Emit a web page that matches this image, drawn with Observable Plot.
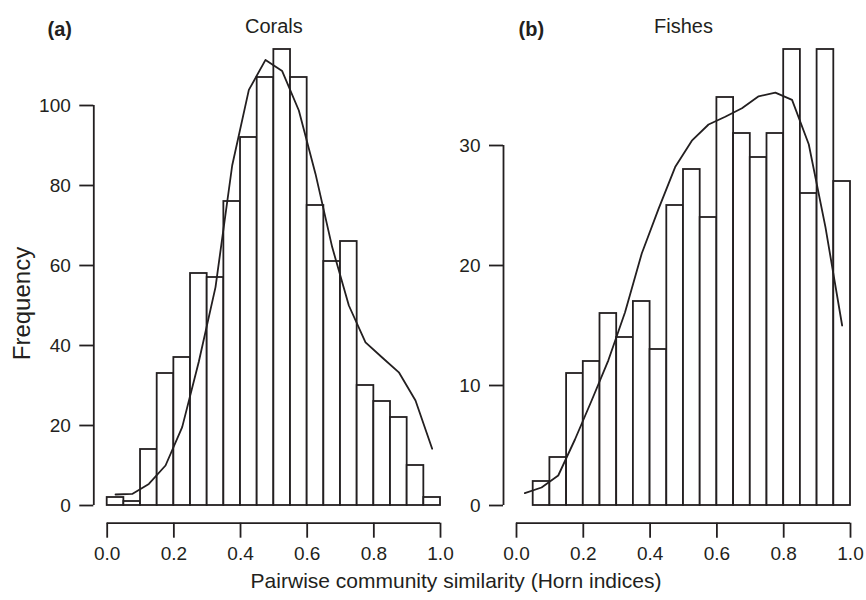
<!DOCTYPE html>
<html><head><meta charset="utf-8">
<script src="https://cdn.jsdelivr.net/npm/d3@7"></script>
<script src="https://cdn.jsdelivr.net/npm/@observablehq/plot@0.6"></script>
<style>
body{margin:0;background:#fff;}
#wrap{position:relative;width:866px;height:600px;overflow:hidden;font-family:"Liberation Sans",Arial,Helvetica,sans-serif;color:#231f20;background:#fff;}
#left,#right{position:absolute;top:0;}
#left{left:0}
#right{left:450px}
#xtitle{position:absolute;left:456px;top:570px;transform:translateX(-50%);font-size:21px;line-height:21px;white-space:nowrap;}
</style></head>
<body><div id="wrap"><div id="left"></div><div id="right"></div><div id="xtitle">Pairwise community similarity (Horn indices)</div></div>
<script>
// Histogram bins (Horn index classes)
const binStart = [0.00,0.05,0.10,0.15,0.20,0.25,0.30,0.35,0.40,0.45,0.50,0.55,0.60,0.65,0.70,0.75,0.80,0.85,0.90,0.95];
const binEnd   = [0.05,0.10,0.15,0.20,0.25,0.30,0.35,0.40,0.45,0.50,0.55,0.60,0.65,0.70,0.75,0.80,0.85,0.90,0.95,1.00];
const binMid   = [0.025,0.075,0.125,0.175,0.225,0.275,0.325,0.375,0.425,0.475,0.525,0.575,0.625,0.675,0.725,0.775,0.825,0.875,0.925,0.975];

// (a) Corals
const coralCounts = [2,1,14,33,37,58,57,76,92,107,114,107,75,61,66,30,26,22,10,2];
const coralCurve  = [2.75,2.9,5.4,10,19.6,36,54.6,85,103.9,111.4,108.6,98.75,82.9,64.6,50,40.8,37,33.3,26.25,14.2];

// (b) Fishes
const fishCounts = [0,2,4,11,12,16,14,17,13,25,28,24,34,31,29,31,38,26,38,27];
const fishCurve  = [1.03,1.5,2.5,5.5,8.75,12.1,16.1,21,24.7,28.2,30.4,31.75,32.4,33.1,34.1,34.4,33.8,30.1,23.2,15];

// Tick labels
const xTicks = [0,0.2,0.4,0.6,0.8,1.0];
const coralYTicks = [0,20,40,60,80,100];
const fishYTicks = [0,10,20,30];

const ink = "#231f20";
const font = "'Liberation Sans', Arial, Helvetica, sans-serif";
const lw = 1.8;

function panel(o){
  const bars = binStart.map((s,i)=>({x1:s, x2:binEnd[i], n:o.counts[i]}));
  const curve = binMid.map((m,i)=>({x:m, y:o.curve[i]}));
  const marks = [
    Plot.rectY(bars, {x1:"x1", x2:"x2", y:"n", fill:"white", stroke:ink, strokeWidth:lw}),
    Plot.line(curve, {x:"x", y:"y", stroke:ink, strokeWidth:lw}),
    Plot.ruleX([0], {y1:0, y2:o.yTicks[o.yTicks.length-1], dx:-o.inset, stroke:ink, strokeWidth:lw}),
    Plot.ruleY([0], {x1:0, x2:1, dy:17.7, stroke:ink, strokeWidth:lw}),
    Plot.axisY({ticks:o.yTicks, tickSize:14, tickPadding:9, label:null, tickFormat:d=>String(d), stroke:ink, strokeWidth:lw, fill:ink}),
    Plot.axisX({ticks:xTicks, tickSize:15, tickPadding:8, label:null, tickFormat:d3.format(".1f"), stroke:ink, strokeWidth:lw, fill:ink}),
    Plot.text([o.title], {x:()=>0.5, frameAnchor:"top", lineAnchor:"bottom", dy:o.titleDy, fontSize:20, fill:ink}),
    Plot.text([o.tag], {frameAnchor:"top-left", textAnchor:"start", lineAnchor:"bottom", dx:o.tagDx, dy:o.tagDy, fontSize:20, fontWeight:"bold", fill:ink})
  ];
  if (o.ylabel) marks.push(Plot.text([o.ylabel], {frameAnchor:"left", rotate:-90, lineAnchor:"middle", textAnchor:"middle", dx:-71, dy:-10.8, fontSize:24, fill:ink}));
  return Plot.plot({
    width:o.width, height:600,
    marginLeft:o.marginLeft, marginRight:o.marginRight, marginTop:o.marginTop, marginBottom:77.3,
    x:{domain:[0,1], insetLeft:o.inset},
    y:{domain:[0,o.yTicks[o.yTicks.length-1]], insetBottom:17.7},
    style:{fontFamily:font, fontSize:"19px", color:ink, background:"transparent", overflow:"visible"},
    marks
  });
}

document.getElementById("left").appendChild(panel({
  counts:coralCounts, curve:coralCurve, yTicks:coralYTicks,
  width:450, marginLeft:93.3, marginRight:10, marginTop:105, inset:13.4,
  title:"Corals", tag:"(a)", titleDy:-73, tagDx:-46.3, tagDy:-70, ylabel:"Frequency"
}));
document.getElementById("right").appendChild(panel({
  counts:fishCounts, curve:fishCurve, yTicks:fishYTicks,
  width:416, marginLeft:53, marginRight:16, marginTop:145, inset:13,
  title:"Fishes", tag:"(b)", titleDy:-113, tagDx:15, tagDy:-110
}));
</script>
</body></html>
